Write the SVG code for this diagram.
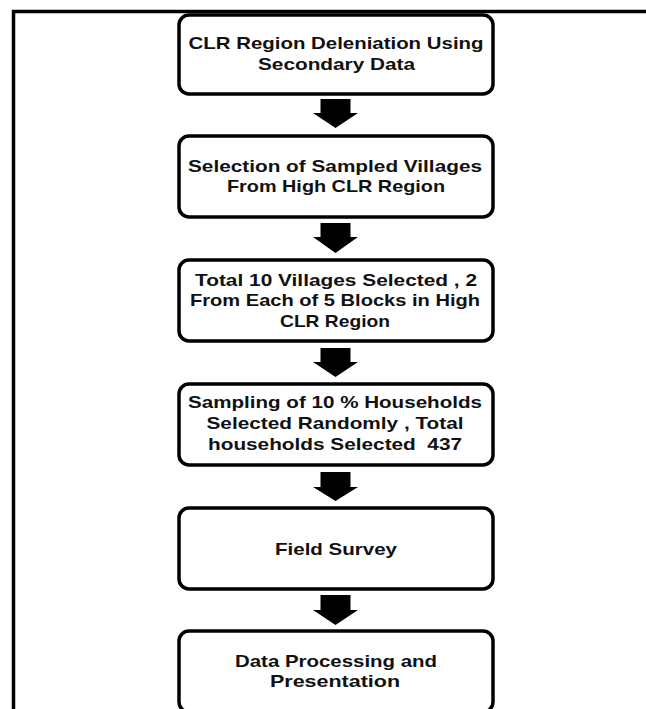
<svg xmlns="http://www.w3.org/2000/svg" width="646" height="709" viewBox="0 0 646 709">
<style>
.frame{fill:none;stroke:#000;stroke-width:3.5}
.box{fill:#fff;stroke:#000;stroke-width:3.5}
.t{font-family:"Liberation Sans",Arial,sans-serif;font-weight:bold;font-size:17px;fill:#111;text-anchor:middle}
.arrow{fill:#000}
</style>
<rect width="646" height="709" fill="#fff"/>
<path class="frame" d="M13.5,709 V11.5 H646"/>
<g id="connectors">
<polygon class="arrow" points="320.5,99 350.5,99 350.5,113 358,113 335.5,128 313,113 320.5,113"/>
<polygon class="arrow" points="320.5,223 350.5,223 350.5,237 358,237 335.5,253 313,237 320.5,237"/>
<polygon class="arrow" points="320.5,348 350.5,348 350.5,362 358,362 335.5,377 313,362 320.5,362"/>
<polygon class="arrow" points="320.5,472 350.5,472 350.5,487 358,487 335.5,501 313,487 320.5,487"/>
<polygon class="arrow" points="320.5,595 350.5,595 350.5,610 358,610 335.5,625 313,610 320.5,610"/>
</g>
<g id="n1">
<rect class="box" x="179" y="15" width="314" height="79" rx="10"/>
<text class="t" x="336" y="49" textLength="295" lengthAdjust="spacingAndGlyphs">CLR Region Deleniation Using</text>
<text class="t" x="336.5" y="70" textLength="157" lengthAdjust="spacingAndGlyphs">Secondary Data</text>
</g>
<g id="n2">
<rect class="box" x="179" y="136" width="314" height="81" rx="10"/>
<text class="t" x="335" y="172" textLength="294" lengthAdjust="spacingAndGlyphs">Selection of Sampled Villages</text>
<text class="t" x="336" y="192" textLength="218" lengthAdjust="spacingAndGlyphs">From High CLR Region</text>
</g>
<g id="n3">
<rect class="box" x="179" y="260" width="314" height="81" rx="10"/>
<text class="t" x="336" y="286" textLength="282" lengthAdjust="spacingAndGlyphs">Total 10 Villages Selected , 2</text>
<text class="t" x="335" y="306" textLength="290" lengthAdjust="spacingAndGlyphs">From Each of 5 Blocks in High</text>
<text class="t" x="335" y="327" textLength="110" lengthAdjust="spacingAndGlyphs">CLR Region</text>
</g>
<g id="n4">
<rect class="box" x="179" y="384" width="314" height="81" rx="10"/>
<text class="t" x="335" y="408" textLength="294" lengthAdjust="spacingAndGlyphs">Sampling of 10 % Households</text>
<text class="t" x="335" y="429" textLength="257" lengthAdjust="spacingAndGlyphs">Selected Randomly , Total</text>
<text class="t" x="335" y="450" textLength="254" lengthAdjust="spacingAndGlyphs" xml:space="preserve">households Selected  437</text>
</g>
<g id="n5">
<rect class="box" x="179" y="508" width="314" height="81" rx="10"/>
<text class="t" x="336" y="555" textLength="122" lengthAdjust="spacingAndGlyphs">Field Survey</text>
</g>
<g id="n6">
<rect class="box" x="179" y="631" width="314" height="81" rx="10"/>
<text class="t" x="336" y="667" textLength="202" lengthAdjust="spacingAndGlyphs">Data Processing and</text>
<text class="t" x="335" y="687" textLength="130" lengthAdjust="spacingAndGlyphs">Presentation</text>
</g>
</svg>
